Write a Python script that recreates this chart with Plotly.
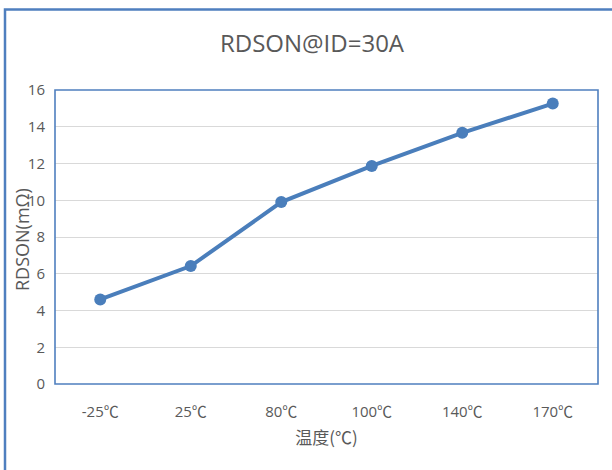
import plotly.graph_objects as go

# Temperature categories and measured on-resistance
temperatures = ["-25℃", "25℃", "80℃", "100℃", "140℃", "170℃"]
rdson_mohm = [4.6, 6.42, 9.9, 11.87, 13.67, 15.26]
y_ticks = [0, 2, 4, 6, 8, 10, 12, 14, 16]

line_blue = "#4A7EBB"
frame_blue = "#4F7FBF"
text_gray = "#595959"
base_font = "Open Sans, Noto Sans CJK SC, sans-serif"

fig = go.Figure(
    go.Scatter(
        x=temperatures,
        y=rdson_mohm,
        mode="lines+markers",
        line=dict(color=line_blue, width=4),
        marker=dict(color=line_blue, size=12),
        showlegend=False,
    )
)

L, R, T, B = 55, 14, 90, 86
W, H = 612, 470
pw, ph = W - L - R, H - T - B


def px(x):
    return (x - L) / pw


def py(y):
    return (H - B - y) / ph


fig.update_layout(
    width=W,
    height=H,
    margin=dict(l=L, r=R, t=T, b=B),
    paper_bgcolor="white",
    plot_bgcolor="white",
    font=dict(family=base_font, color=text_gray, size=14),
    title=dict(
        text="RDSON@ID=30A",
        xref="container",
        yref="container",
        x=312 / W,
        xanchor="center",
        y=1 - 44 / H,
        yanchor="middle",
        font=dict(size=24, color=text_gray, family=base_font),
    ),
    xaxis=dict(
        type="category",
        showgrid=False,
        showline=False,
        ticks="",
        ticklabelstandoff=17,
        tickfont=dict(size=15, color=text_gray, family=base_font),
        title=dict(text="温度(℃)", font=dict(size=17, color=text_gray, family="Noto Sans CJK SC, sans-serif"), standoff=12),
        range=[-0.5, 5.5],
    ),
    yaxis=dict(
        range=[0, 16],
        tickvals=y_ticks,
        showgrid=True,
        gridcolor="#D9D9D9",
        gridwidth=1.2,
        zeroline=False,
        showline=False,
        ticks="",
        ticklabelstandoff=9,
        tickfont=dict(size=15, color=text_gray, family=base_font),
    ),
    annotations=[
        dict(text="RDSON(mΩ)", textangle=-90, xref="paper", yref="paper",
             x=px(22), y=py(240), xanchor="center", yanchor="middle",
             showarrow=False, font=dict(size=18, color=text_gray, family=base_font)),
    ],
    shapes=[
        # plot area frame
        dict(type="rect", xref="paper", yref="paper", x0=0, y0=0, x1=1, y1=1,
             line=dict(color=frame_blue, width=1.6), layer="above"),
        # outer chart frame
        dict(type="rect", xref="paper", yref="paper",
             x0=px(5), y0=py(H + 20), x1=px(W + 20), y1=py(9.5),
             line=dict(color=frame_blue, width=2.5), layer="above"),
    ],
)

fig.write_html("out.html")
